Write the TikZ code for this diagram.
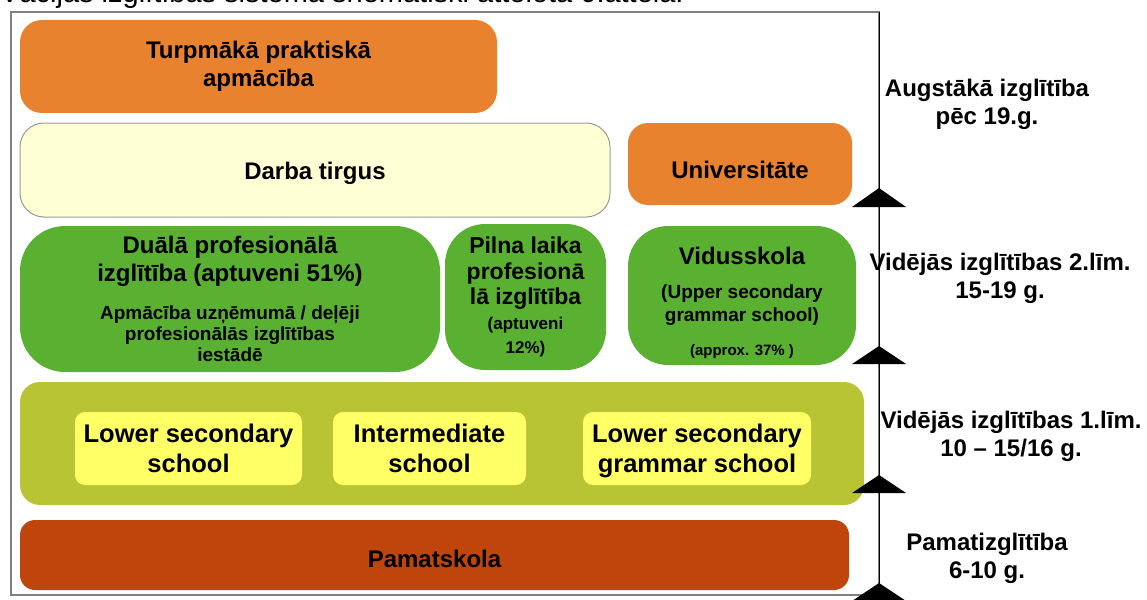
\documentclass[tikz,border=0pt]{standalone}
\usepackage{fontspec}
\setmainfont{Liberation Sans}

\definecolor{orangebox}{HTML}{E8822E}
\definecolor{greenbox}{HTML}{5AB031}
\definecolor{olivebox}{HTML}{B8C434}
\definecolor{yellowbox}{HTML}{FFFF66}
\definecolor{rustbox}{HTML}{C0450C}
\definecolor{creambox}{HTML}{FFFFD5}

\newcommand\bxfont{\fontsize{24}{28}\selectfont\bfseries}
\newcommand\sbfont{\fontsize{19}{22}\selectfont\bfseries}
\newcommand\pfont{\fontsize{23}{26}\selectfont\bfseries}
\newcommand\yfont{\fontsize{25.5}{30}\selectfont\bfseries}

\begin{document}
\begin{tikzpicture}[x=1pt,y=-1pt,
  box/.style={rounded corners=#1,align=center,inner sep=0pt,font=\bxfont},
  level/.style={align=center,font=\bxfont}]
  \useasboundingbox (0,0) rectangle (1147,599);

  \node [anchor=base west,inner sep=0pt,font=\fontsize{29}{34}\selectfont] (title) at (0,3) {Vācijas izglītības sistēma shematiski attēlota 0.attēlā.};

  \draw [gray,line width=1.5pt] (11,12) rectangle (879,595);

  \node [box=22pt,fill=orangebox,minimum width=477pt,minimum height=93pt] (turpmaka) at (258.5,66.5) {Turpmākā praktiskā\\apmācība};
  \node [box=24pt,fill=creambox,draw=gray!80,line width=1pt,minimum width=590pt,minimum height=94pt] (darba) at (315,170) {\raisebox{-3pt}[\height][\depth]{Darba tirgus}};
  \node [box=20pt,fill=orangebox,minimum width=224pt,minimum height=82pt] (univ) at (740,164) {\raisebox{-6pt}[\height][\depth]{Universitāte}};

  \node [box=45pt,fill=greenbox,minimum width=420pt,minimum height=146pt] (duala) at (230,299)
    {Duālā profesionālā\\izglītība (aptuveni 51\%)\\[10pt]
     \sbfont Apmācība uzņēmumā / deļēji\\[-7pt]\sbfont profesionālās izglītības\\[-7pt]\sbfont iestādē};
  \node [box=40pt,fill=greenbox,minimum width=161pt,minimum height=146pt] (pilna) at (525.5,297)
    {\pfont Pilna laika\\[-2.5pt]\pfont profesionā\\[-2.5pt]\pfont lā izglītība\\[-3pt]
     \fontsize{17}{24}\selectfont\bfseries (aptuveni\\[-4pt]\fontsize{17}{24}\selectfont\bfseries 12\%)};
  \node [box=40pt,fill=greenbox,minimum width=228pt,minimum height=139pt] (vidus) at (742,295.5) {};
  \node [level] (vidustxt) at ([yshift=-7.5pt]vidus.center)
    {Vidusskola\\[6pt]\sbfont (Upper secondary\\[-5pt]\sbfont grammar school)\\[6pt]\fontsize{15}{18}\selectfont\bfseries (approx. 37\% )};

  \node [box=20pt,fill=olivebox,minimum width=844pt,minimum height=123pt] (sek1) at (442,443.5) {};
  \node [box=10pt,fill=yellowbox,minimum width=227pt,minimum height=73pt,font=\yfont] (lower) at (188.5,448.5) {Lower secondary\\school};
  \node [box=10pt,fill=yellowbox,minimum width=193pt,minimum height=73pt,font=\yfont] (inter) at (429.5,448.5) {Intermediate\\school};
  \node [box=10pt,fill=yellowbox,minimum width=228pt,minimum height=73pt,font=\yfont] (grammar) at (697,448.5) {Lower secondary\\\raisebox{0pt}[\height][0pt]{grammar school}};

  \node [box=15pt,fill=rustbox,minimum width=829pt,minimum height=70pt] (pamat) at (434.5,555) {\raisebox{-4pt}[\height][\depth]{Pamatskola}};

  % vecuma ass
  \draw [black,line width=1pt] (879,12) -- (879,599);
  \fill (852,207) -- (879,188) -- (906,207) -- cycle;
  \fill (852,364) -- (879,346) -- (906,364) -- cycle;
  \fill (852,493) -- (879,475) -- (906,493) -- cycle;
  \fill (852,601) -- (879,583) -- (906,601) -- cycle;

  \node [level] (augst) at (987,104) {Augstākā izglītība\\pēc 19.g.};
  \node [level] (vid2) at (1000,278) {Vidējās izglītības 2.līm.\\15-19 g.};
  \node [level] (vid1) at (1011,436) {Vidējās izglītības 1.līm.\\10 – 15/16 g.};
  \node [level] (pamatl) at (987,558) {Pamatizglītība\\6-10 g.};
\end{tikzpicture}
\end{document}
